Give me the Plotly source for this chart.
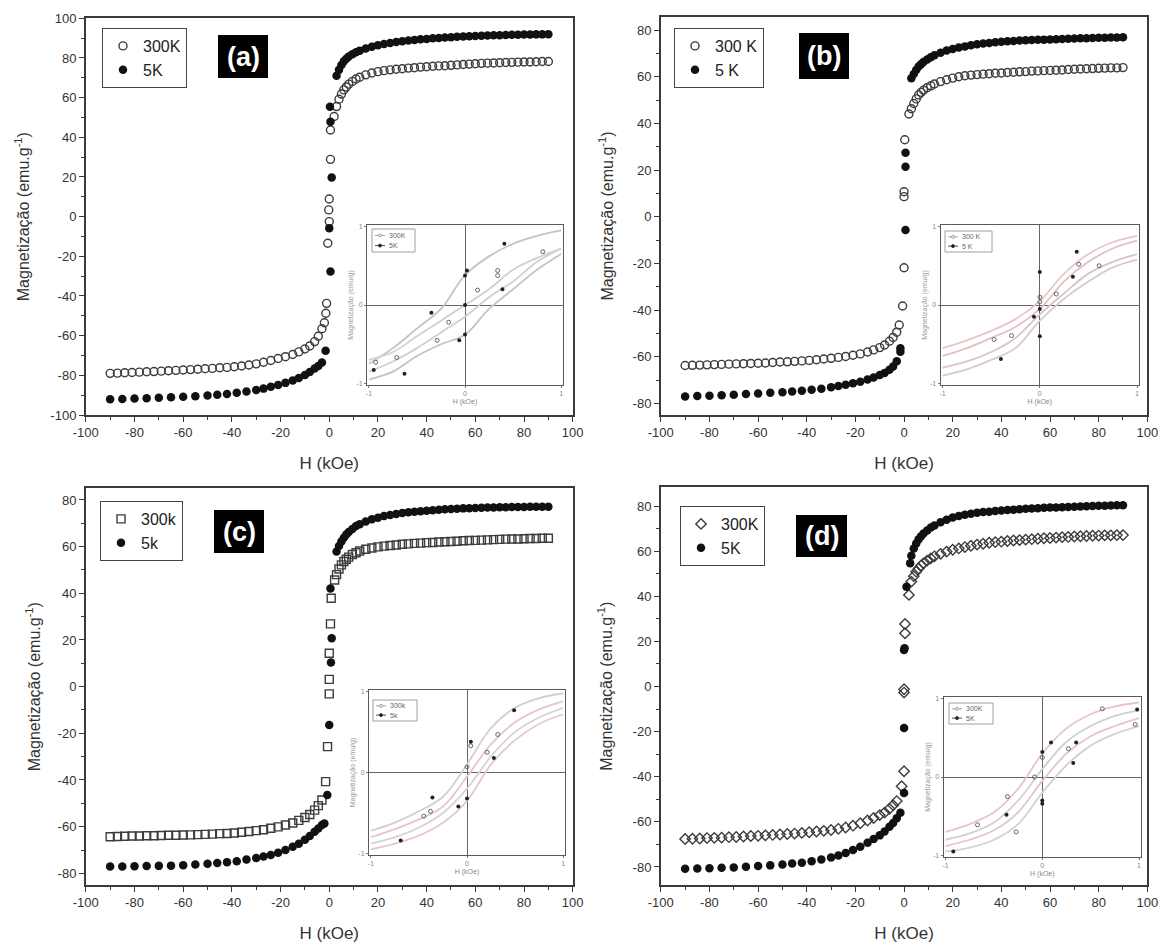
import plotly.graph_objects as go

FONT = "Arial, 'Liberation Sans', Helvetica, sans-serif"
W, H = 1169, 947

# ---------------------------------------------------------------- field grids (kOe)
H300_NEG = [-90, -87, -84, -81, -78, -75, -72, -69, -66, -63, -60, -57, -54, -51, -48, -45,
            -42, -39, -36, -33, -30, -27, -24, -21, -18, -15, -12.5, -10, -8, -6, -4.5, -3]
H5_NEG = [-90, -85, -80, -75, -70, -65, -60, -55, -50, -46, -42, -38, -34, -30, -27, -24,
          -21, -18, -15, -12.5, -10, -8, -6, -4.5, -3]
H_POS = [3, 4, 5, 6, 7, 8, 9.5, 11, 12.5, 15, 17.5, 20, 22.5, 25, 27.5, 30, 32.5, 35, 37.5, 40,
         42.5, 45, 47.5, 50, 52.5, 55, 57.5, 60, 62.5, 65, 67.5, 70, 72.5, 75, 77.5, 80, 82.5,
         85, 87.5, 90]

# tick labels (plain hyphen minus)
X_TICKS = [-100, -80, -60, -40, -20, 0, 20, 40, 60, 80, 100]
X_TICK_TEXT = ["-100", "-80", "-60", "-40", "-20", "0", "20", "40", "60", "80", "100"]
Y_TICKS_A = [-100, -80, -60, -40, -20, 0, 20, 40, 60, 80, 100]
Y_TICK_TEXT_A = ["-100", "-80", "-60", "-40", "-20", "0", "20", "40", "60", "80", "100"]
Y_TICKS_BCD = [-80, -60, -40, -20, 0, 20, 40, 60, 80]
Y_TICK_TEXT_BCD = ["-80", "-60", "-40", "-20", "0", "20", "40", "60", "80"]

# ---------------------------------------------------------------- sample (a)
A300_NEG = [-79.0, -78.9, -78.7, -78.6, -78.4, -78.2, -78.1, -77.9, -77.7, -77.5, -77.3, -77.1,
            -76.9, -76.7, -76.5, -76.2, -76.0, -75.7, -75.3, -74.8, -74.2, -73.4, -72.5, -71.5,
            -70.6, -69.5, -68.2, -66.7, -65.2, -63.0, -60.3, -56.5]
A300_MID_H = [-2, -1.4, -1.1, -0.6, 0, -0.2, 0, 0.5, 0.5, 2]
A300_MID_M = [-53.5, -48.7, -43.7, -13.4, -2.5, 3.4, 8.9, 28.9, 43.7, 50.5]
A300_POS = [55.5, 59.2, 61.8, 63.9, 65.4, 66.8, 68.2, 69.4, 70.3, 71.5, 72.4, 73.1, 73.6, 74.0,
            74.3, 74.6, 74.9, 75.1, 75.4, 75.6, 75.8, 76.0, 76.1, 76.3, 76.5, 76.7, 76.9, 77.1,
            77.3, 77.4, 77.5, 77.6, 77.7, 77.8, 77.9, 78.0, 78.0, 78.1, 78.2, 78.2]
A5_NEG = [-92.1, -91.9, -91.7, -91.5, -91.3, -91.0, -90.8, -90.5, -90.2, -89.8, -89.4, -88.8,
          -88.2, -87.4, -86.7, -85.8, -84.9, -83.8, -82.6, -81.3, -79.8, -78.3, -76.6, -75.3,
          -73.5]
A5_MID_H = [-1.5, 0.5, 0, 1, 0.5, 0.3]
A5_MID_M = [-67.6, -27.7, -5.9, 19.7, 47.9, 55.4]
A5_POS = [71.0, 74.0, 76.5, 78.3, 79.6, 80.7, 81.9, 82.9, 83.7, 84.8, 85.7, 86.4, 87.0, 87.5,
          88.0, 88.4, 88.8, 89.1, 89.4, 89.6, 89.9, 90.1, 90.3, 90.5, 90.7, 90.8, 91.0, 91.1,
          91.2, 91.3, 91.4, 91.5, 91.6, 91.7, 91.7, 91.8, 91.8, 91.9, 91.9, 92.0]

# ---------------------------------------------------------------- sample (b)
B300_NEG = [-63.8, -63.7, -63.6, -63.5, -63.4, -63.3, -63.2, -63.1, -63.0, -62.9, -62.8, -62.7,
            -62.5, -62.3, -62.2, -62.0, -61.8, -61.6, -61.3, -61.0, -60.7, -60.3, -59.9, -59.4,
            -58.8, -58.0, -57.1, -56.1, -55.0, -53.4, -51.8, -49.5]
B300_MID_H = [-2, -0.6, 0, 0, 0, 0.3, 2]
B300_MID_M = [-46.4, -38.3, -21.9, 8.6, 10.7, 33.0, 44.0]
B300_POS = [46.3, 48.5, 50.5, 52.2, 53.3, 54.2, 55.3, 56.1, 56.9, 57.9, 58.7, 59.4, 60.0, 60.4,
            60.7, 60.9, 61.1, 61.3, 61.5, 61.6, 61.8, 61.9, 62.1, 62.2, 62.4, 62.5, 62.6, 62.7,
            62.8, 62.9, 63.1, 63.2, 63.3, 63.4, 63.5, 63.6, 63.7, 63.8, 63.8, 63.9]
B5_NEG = [-77.1, -76.9, -76.7, -76.5, -76.3, -76.0, -75.8, -75.5, -75.2, -74.9, -74.6, -74.2,
          -73.7, -73.1, -72.6, -72.0, -71.4, -70.7, -69.8, -68.9, -67.9, -67.0, -65.6, -64.2,
          -62.0]
B5_MID_H = [-1.5, -1.5, 0.6, 0.6, 0.6]
B5_MID_M = [-57.9, -56.4, -5.7, 21.4, 27.4]
B5_POS = [59.3, 61.2, 62.9, 64.4, 65.4, 66.3, 67.4, 68.4, 69.2, 70.3, 71.2, 71.9, 72.5, 73.0,
          73.5, 73.9, 74.2, 74.5, 74.8, 75.0, 75.2, 75.3, 75.5, 75.6, 75.7, 75.8, 75.9, 76.0,
          76.1, 76.2, 76.3, 76.4, 76.5, 76.5, 76.6, 76.7, 76.7, 76.8, 76.8, 76.9]

# ---------------------------------------------------------------- sample (c)
C300_NEG = [-64.3, -64.2, -64.1, -64.0, -64.0, -63.9, -63.9, -63.8, -63.7, -63.7, -63.6, -63.5,
            -63.4, -63.3, -63.2, -63.0, -62.9, -62.7, -62.4, -62.1, -61.7, -61.3, -60.7, -60.1,
            -59.3, -58.4, -57.3, -56.1, -54.8, -52.9, -51.0, -48.6]
C300_MID_H = [-1.5, -0.7, 0, 0, 0, 0.5, 0.8, 2.2]
C300_MID_M = [-40.7, -25.7, -3.1, 3.1, 14.3, 26.9, 37.9, 45.7]
C300_POS = [48.0, 50.4, 52.2, 53.6, 54.6, 55.5, 56.6, 57.4, 58.1, 58.9, 59.4, 59.9, 60.2, 60.5,
            60.7, 61.0, 61.2, 61.4, 61.5, 61.7, 61.8, 62.0, 62.1, 62.2, 62.3, 62.5, 62.6, 62.7,
            62.8, 62.9, 63.0, 63.1, 63.2, 63.3, 63.3, 63.4, 63.5, 63.5, 63.6, 63.6]
C5_NEG = [-77.1, -77.1, -77.0, -76.9, -76.8, -76.7, -76.5, -76.2, -75.9, -75.6, -75.2, -74.8,
          -74.1, -73.4, -72.8, -72.1, -71.2, -70.0, -68.6, -67.3, -65.6, -64.0, -62.2, -60.8,
          -59.3]
C5_MID_H = [-2, -0.8, 0, 0.7, 1, 0.5]
C5_MID_M = [-58.6, -46.4, -16.4, 10.3, 20.7, 42.1]
C5_POS = [57.9, 60.3, 62.2, 63.8, 65.2, 66.3, 67.6, 68.8, 69.6, 70.8, 71.7, 72.4, 73.1, 73.6,
          74.0, 74.4, 74.7, 75.0, 75.2, 75.4, 75.6, 75.8, 76.0, 76.1, 76.2, 76.4, 76.5, 76.6,
          76.7, 76.8, 76.8, 76.9, 76.9, 77.0, 77.0, 77.0, 77.1, 77.1, 77.1, 77.1]

# ---------------------------------------------------------------- sample (d)
D300_NEG = [-67.6, -67.5, -67.4, -67.2, -67.1, -67.0, -66.8, -66.7, -66.5, -66.3, -66.2, -66.0,
            -65.8, -65.6, -65.4, -65.2, -64.9, -64.6, -64.3, -64.0, -63.6, -63.1, -62.5, -61.7,
            -60.6, -59.4, -58.3, -57.0, -55.9, -54.2, -52.6, -50.8]
D300_MID_H = [-1, 0, 0, 0, 0.4, 0.4, 2]
D300_MID_M = [-44.2, -37.6, -2.7, -1.2, 23.6, 27.7, 40.6]
D300_POS = [46.5, 48.9, 50.9, 52.3, 53.6, 54.6, 55.8, 56.8, 57.7, 58.8, 59.8, 60.6, 61.2, 61.8,
            62.4, 62.9, 63.3, 63.7, 64.0, 64.2, 64.5, 64.7, 64.9, 65.1, 65.3, 65.5, 65.7, 65.8,
            66.0, 66.2, 66.3, 66.5, 66.6, 66.7, 66.8, 66.9, 67.0, 67.0, 67.1, 67.1]
D5_NEG = [-80.8, -80.7, -80.6, -80.4, -80.2, -79.9, -79.6, -79.3, -78.9, -78.5, -78.1, -77.5,
          -76.7, -75.8, -74.9, -73.8, -72.5, -71.0, -69.3, -67.6, -66.0, -64.3, -62.2, -60.5,
          -58.4]
D5_MID_H = [-1.5, 0, 0, 0, 0.2, 1, 2.5]
D5_MID_M = [-56.0, -47.2, -18.4, 16.2, 17.0, 44.2, 54.6]
D5_POS = [58.0, 61.2, 63.4, 65.3, 66.6, 67.8, 69.2, 70.5, 71.4, 72.8, 73.9, 74.9, 75.6, 76.1,
          76.6, 77.0, 77.3, 77.5, 77.8, 78.0, 78.2, 78.4, 78.6, 78.8, 78.9, 79.0, 79.2, 79.3,
          79.4, 79.5, 79.6, 79.7, 79.8, 79.9, 80.0, 80.1, 80.1, 80.2, 80.3, 80.3]

# ---------------------------------------------------------------- inset loops (normalised H, M)
U_GRID = [-1, -0.75, -0.5, -0.25, 0, 0.25, 0.5, 0.75, 1]
A_LOOPS = [[-0.75, -0.55, -0.3, -0.05, 0.38, 0.62, 0.78, 0.88, 0.95],
           [-0.95, -0.85, -0.65, -0.5, -0.38, -0.05, 0.2, 0.45, 0.65],
           [-0.7, -0.6, -0.4, -0.2, 0.0, 0.2, 0.45, 0.6, 0.72],
           [-0.85, -0.72, -0.55, -0.35, -0.15, 0.1, 0.3, 0.55, 0.72]]
B_LOOPS = [[-0.55, -0.45, -0.33, -0.18, 0.05, 0.4, 0.65, 0.8, 0.88],
           [-0.65, -0.55, -0.42, -0.28, -0.05, 0.3, 0.55, 0.72, 0.82],
           [-0.8, -0.72, -0.6, -0.42, -0.12, 0.15, 0.4, 0.55, 0.65],
           [-0.9, -0.82, -0.7, -0.55, -0.2, 0.08, 0.3, 0.48, 0.58]]
C_LOOPS = [[-0.72, -0.62, -0.48, -0.3, 0.1, 0.55, 0.8, 0.92, 0.98],
           [-0.8, -0.7, -0.58, -0.42, -0.05, 0.35, 0.62, 0.78, 0.88],
           [-0.88, -0.8, -0.68, -0.5, -0.2, 0.2, 0.5, 0.68, 0.8],
           [-0.95, -0.88, -0.78, -0.62, -0.35, 0.1, 0.4, 0.6, 0.72]]
D_LOOPS = [[-0.7, -0.6, -0.45, -0.15, 0.3, 0.62, 0.8, 0.9, 0.95],
           [-0.8, -0.72, -0.58, -0.3, 0.1, 0.45, 0.65, 0.78, 0.85],
           [-0.88, -0.8, -0.68, -0.45, -0.05, 0.3, 0.52, 0.65, 0.75],
           [-0.95, -0.9, -0.8, -0.6, -0.2, 0.15, 0.4, 0.55, 0.65]]

A_IN300_U = [0.81, 0.34, 0.34, 0.13, -0.17, -0.29, -0.71, -0.93]
A_IN300_V = [0.68, 0.44, 0.375, 0.19, -0.22, -0.45, -0.67, -0.73]
A_IN5_U = [0.41, 0.02, 0.0, 0.39, 0.0, -0.35, 0.0, -0.06, -0.95, -0.63]
A_IN5_V = [0.78, 0.44, 0.375, 0.2, 0.0, -0.1, -0.375, -0.45, -0.83, -0.875]
B_IN300_U = [0.40, 0.17, 0.0, 0.0, -0.29, -0.47, 0.61]
B_IN300_V = [0.52, 0.14, 0.1, 0.04, -0.39, -0.44, 0.5]
B_IN5_U = [0.38, 0.34, 0.0, -0.06, 0.0, 0.0, -0.4]
B_IN5_V = [0.68, 0.36, 0.42, -0.15, -0.05, -0.4, -0.69]
C_IN300_U = [0.32, 0.21, 0.04, 0.0, -0.38, -0.45]
C_IN300_V = [0.47, 0.25, 0.33, 0.07, -0.48, -0.54]
C_IN5_U = [0.49, 0.28, 0.04, 0.0, -0.09, -0.36, -0.69]
C_IN5_V = [0.77, 0.18, 0.38, -0.32, -0.42, -0.31, -0.84]
D_IN300_U = [0.62, 0.96, 0.27, 0.0, -0.08, -0.36, -0.27, -0.67]
D_IN300_V = [0.87, 0.67, 0.36, 0.25, 0.0, -0.25, -0.7, -0.61]
D_IN5_U = [0.98, 0.09, 0.35, 0.32, 0.0, 0.0, 0.0, -0.37, -0.92]
D_IN5_V = [0.86, 0.44, 0.44, 0.18, 0.32, -0.3, -0.34, -0.48, -0.95]

# ---------------------------------------------------------------- panel layout (pixels)
PANELS = [
    dict(tag="(a)", xpx=(85.8, 572.7), ypx=(18.3, 415), yr=(-100, 100), sym="circle-open",
         labels=("300K", "5K"), yt=(Y_TICKS_A, Y_TICK_TEXT_A), ystand=17,
         h300=(H300_NEG, A300_MID_H, H_POS), m300=(A300_NEG, A300_MID_M, A300_POS),
         h5=(H5_NEG, A5_MID_H, H_POS), m5=(A5_NEG, A5_MID_M, A5_POS),
         leg=(102, 28), tagbox=(218, 35, 268, 78), inset=(367, 225, 563, 385),
         loops=A_LOOPS, loopcol=("#c4c4c4", "#c4c4c4", "#d0d0d0", "#d0d0d0"),
         in300=(A_IN300_U, A_IN300_V), in5=(A_IN5_U, A_IN5_V), inleg=(372, 229, 415, 252)),
    dict(tag="(b)", xpx=(660.8, 1147.3), ypx=(17, 415), yr=(-85, 85.6), sym="circle-open",
         labels=("300 K", "5 K"), yt=(Y_TICKS_BCD, Y_TICK_TEXT_BCD), ystand=15,
         h300=(H300_NEG, B300_MID_H, H_POS), m300=(B300_NEG, B300_MID_M, B300_POS),
         h5=(H5_NEG, B5_MID_H, H_POS), m5=(B5_NEG, B5_MID_M, B5_POS),
         leg=(674, 28), tagbox=(799, 33, 849, 79), inset=(940.6, 225, 1139, 385),
         loops=B_LOOPS, loopcol=("#e8c6c8", "#e2c0c2", "#d8c4c6", "#d4cccc"),
         in300=(B_IN300_U, B_IN300_V), in5=(B_IN5_U, B_IN5_V), inleg=(945, 231, 992, 252)),
    dict(tag="(c)", xpx=(85.8, 572.7), ypx=(488.3, 885), yr=(-85, 85), sym="square-open",
         labels=("300k", "5k"), yt=(Y_TICKS_BCD, Y_TICK_TEXT_BCD), ystand=13,
         h300=(H300_NEG, C300_MID_H, H_POS), m300=(C300_NEG, C300_MID_M, C300_POS),
         h5=(H5_NEG, C5_MID_H, H_POS), m5=(C5_NEG, C5_MID_M, C5_POS),
         leg=(100, 501), tagbox=(214, 510, 264, 553), inset=(369, 690, 565, 855),
         loops=C_LOOPS, loopcol=("#d0d0d0", "#e8c4c8", "#d4d4d4", "#e4c8ca"),
         in300=(C_IN300_U, C_IN300_V), in5=(C_IN5_U, C_IN5_V), inleg=(373, 700, 417, 721)),
    dict(tag="(d)", xpx=(660.8, 1147.3), ypx=(487.3, 885), yr=(-88, 88.3), sym="diamond-open",
         labels=("300K", "5K"), yt=(Y_TICKS_BCD, Y_TICK_TEXT_BCD), ystand=16,
         h300=(H300_NEG, D300_MID_H, H_POS), m300=(D300_NEG, D300_MID_M, D300_POS),
         h5=(H5_NEG, D5_MID_H, H_POS), m5=(D5_NEG, D5_MID_M, D5_POS),
         leg=(680, 506), tagbox=(796, 515, 847, 557), inset=(943.6, 697, 1141, 857),
         loops=D_LOOPS, loopcol=("#e8c4c8", "#d0d0d0", "#e4c6c8", "#d2d2d2"),
         in300=(D_IN300_U, D_IN300_V), in5=(D_IN5_U, D_IN5_V), inleg=(949, 703, 993, 724)),
]


def fx(p):
    return p / W


def fy(p):
    return 1 - p / H


fig = go.Figure()
layout = dict(width=W, height=H, margin=dict(l=0, r=0, t=0, b=0, pad=0, autoexpand=False),
              paper_bgcolor="white", plot_bgcolor="white", showlegend=True,
              font=dict(family=FONT, color="#333"))
shapes, annotations = [], []

for i, p in enumerate(PANELS):
    n = i + 1
    xa, ya = f"x{n}", f"y{n}"
    legname = "legend" if n == 1 else f"legend{n}"

    h300 = p["h300"][0] + p["h300"][1] + p["h300"][2]
    m300 = p["m300"][0] + p["m300"][1] + p["m300"][2]
    h5 = p["h5"][0] + p["h5"][1] + p["h5"][2]
    m5 = p["m5"][0] + p["m5"][1] + p["m5"][2]

    fig.add_trace(go.Scatter(
        x=h300, y=m300, mode="markers", name=p["labels"][0], xaxis=xa, yaxis=ya,
        legend=legname,
        marker=dict(symbol=p["sym"], size=8, color="#3c3c3c", line=dict(width=1.4))))
    fig.add_trace(go.Scatter(
        x=h5, y=m5, mode="markers", name=p["labels"][1], xaxis=xa, yaxis=ya,
        legend=legname,
        marker=dict(symbol="circle", size=8.5, color="#111111", line=dict(width=0))))

    axis_common = dict(showline=True, linecolor="#3a3a3a", linewidth=1.6, mirror=True,
                       showgrid=False, zeroline=False, ticks="outside", ticklen=5,
                       tickwidth=1.2, tickcolor="#3a3a3a", automargin=False,
                       tickfont=dict(size=13, color="#333", family=FONT))
    layout[f"xaxis{n}"] = dict(axis_common, domain=[fx(p["xpx"][0]), fx(p["xpx"][1])],
                               range=[-100, 100], tickmode="array", tickvals=X_TICKS,
                               ticktext=X_TICK_TEXT, anchor=ya,
                               title=dict(text="H (kOe)", standoff=18,
                                          font=dict(size=17, color="#333", family=FONT)),
                               minor=dict(dtick=10, tick0=0, ticklen=3, ticks="outside",
                                          tickcolor="#3a3a3a"))
    layout[f"yaxis{n}"] = dict(axis_common, domain=[fy(p["ypx"][1]), fy(p["ypx"][0])],
                               range=list(p["yr"]), tickmode="array", tickvals=p["yt"][0],
                               ticktext=p["yt"][1], anchor=xa,
                               title=dict(text="Magnetização (emu.g<sup>-1</sup>)",
                                          standoff=p["ystand"],
                                          font=dict(size=16, color="#333", family=FONT)),
                               minor=dict(dtick=10, tick0=0, ticklen=3, ticks="outside",
                                          tickcolor="#3a3a3a"))

    # legend box
    layout[legname] = dict(x=fx(p["leg"][0]), y=fy(p["leg"][1]), xanchor="left", yanchor="top",
                           xref="paper", yref="paper",
                           bordercolor="#444", borderwidth=1, bgcolor="white",
                           font=dict(size=16, color="#222", family=FONT),
                           itemwidth=30, tracegroupgap=0)

    # panel tag in black box
    x0, y0, x1, y1 = p["tagbox"]
    shapes.append(dict(type="rect", xref="paper", yref="paper", x0=fx(x0), x1=fx(x1),
                       y0=fy(y1), y1=fy(y0), fillcolor="black", line=dict(width=0)))
    annotations.append(dict(text=f"<b>{p['tag']}</b>", x=fx((x0 + x1) / 2), y=fy((y0 + y1) / 2),
                            xref="paper", yref="paper", showarrow=False,
                            xanchor="center", yanchor="middle",
                            font=dict(size=27, color="white", family=FONT)))

    # ---------------- inset
    m = n + 4
    ixa, iya = f"x{m}", f"y{m}"
    ix0, iy0, ix1, iy1 = p["inset"]
    for k, branch in enumerate(p["loops"]):
        fig.add_trace(go.Scatter(x=U_GRID, y=branch, mode="lines", xaxis=ixa, yaxis=iya,
                                 showlegend=False, hoverinfo="skip",
                                 line=dict(color=p["loopcol"][k], width=1.8, shape="spline")))
    fig.add_trace(go.Scatter(x=p["in300"][0], y=p["in300"][1], mode="markers", xaxis=ixa,
                             yaxis=iya, name=p["labels"][0], showlegend=False,
                             marker=dict(symbol="circle-open", size=4, color="#666",
                                         line=dict(width=1))))
    fig.add_trace(go.Scatter(x=p["in5"][0], y=p["in5"][1], mode="markers", xaxis=ixa,
                             yaxis=iya, name=p["labels"][1], showlegend=False,
                             marker=dict(symbol="circle", size=4, color="#222")))
    inset_axis = dict(showline=True, linecolor="#5a5a5a", linewidth=1, mirror=True,
                      showgrid=False, zeroline=True, zerolinecolor="#666", zerolinewidth=1,
                      range=[-1.02, 1.02], ticks="outside", ticklen=2, tickcolor="#777",
                      tickvals=[-1, 0, 1], ticktext=["-1", "0", "1"], automargin=False,
                      tickfont=dict(size=7, color="#888", family=FONT))
    layout[f"xaxis{m}"] = dict(inset_axis, domain=[fx(ix0), fx(ix1)], anchor=iya,
                               title=dict(text="H (kOe)", standoff=2,
                                          font=dict(size=7, color="#888", family=FONT)))
    layout[f"yaxis{m}"] = dict(inset_axis, domain=[fy(iy1), fy(iy0)], anchor=ixa,
                               title=dict(text="Magnetização (emu/g)", standoff=1,
                                          font=dict(size=7, color="#999", family=FONT)))
    shapes.append(dict(type="rect", xref="paper", yref="paper", layer="below",
                       x0=fx(ix0 - 16), x1=fx(ix1 + 2), y0=fy(iy1 + 24), y1=fy(iy0 - 2),
                       fillcolor="white", line=dict(width=0)))
    # small inset legend key
    lx0, ly0, lx1, ly1 = p["inleg"]
    shapes.append(dict(type="rect", xref="paper", yref="paper", x0=fx(lx0), x1=fx(lx1),
                       y0=fy(ly1), y1=fy(ly0), line=dict(color="#888", width=0.8),
                       fillcolor="white"))
    for r, (txt, col) in enumerate([(p["labels"][0], "#888"), (p["labels"][1], "#222")]):
        ry = ly0 + (ly1 - ly0) * (0.28 + 0.44 * r)
        shapes.append(dict(type="line", xref="paper", yref="paper", x0=fx(lx0 + 3),
                           x1=fx(lx0 + 13), y0=fy(ry), y1=fy(ry),
                           line=dict(color=col, width=0.8)))
        shapes.append(dict(type="circle", xref="paper", yref="paper", x0=fx(lx0 + 6.5),
                           x1=fx(lx0 + 9.5), y0=fy(ry + 1.5), y1=fy(ry - 1.5),
                           line=dict(color=col, width=0.8),
                           fillcolor=col if r == 1 else "white"))
        annotations.append(dict(text=txt, x=fx(lx0 + 15), y=fy(ry), xref="paper", yref="paper",
                                showarrow=False, xanchor="left", yanchor="middle",
                                font=dict(size=7, color="#666", family=FONT)))

layout["shapes"] = shapes
layout["annotations"] = annotations
fig.update_layout(**layout)
fig.write_html("out.html")
